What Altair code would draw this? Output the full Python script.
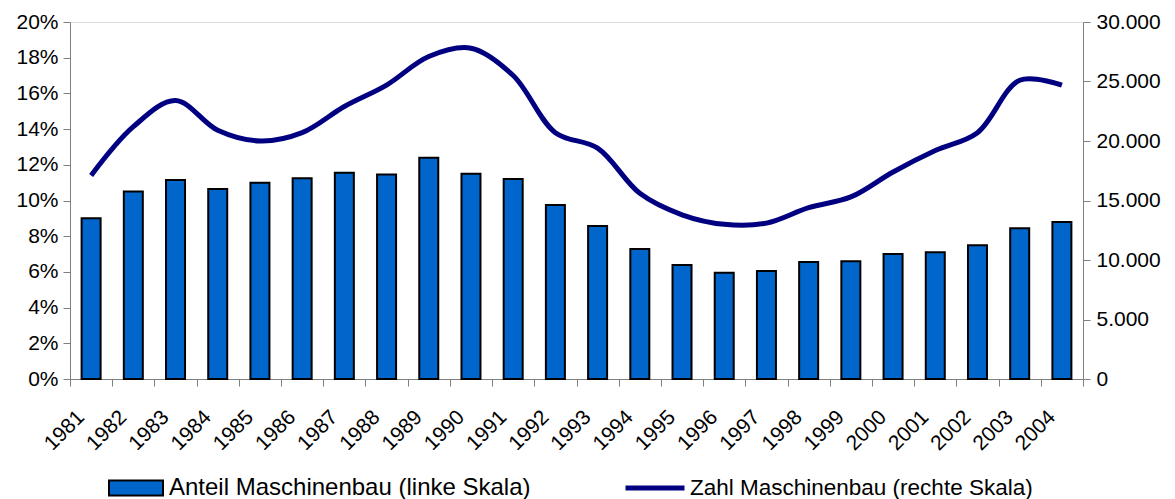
import altair as alt
import pandas as pd

years = [str(y) for y in range(1981, 2005)]
anteil = [9.0, 10.5, 11.15, 10.65, 11.0, 11.25, 11.55, 11.45, 12.4, 11.5, 11.2, 9.75,
          8.57, 7.28, 6.39, 5.95, 6.05, 6.55, 6.6, 7.0, 7.1, 7.5, 8.45, 8.8]
zahl = [17100, 21200, 23400, 20900, 20000, 20700, 22900, 24700, 27100, 27800, 25500, 20700,
        19400, 15600, 13800, 13000, 13100, 14400, 15300, 17400, 19200, 20700, 25100, 24700]

s_bar = "Anteil Maschinenbau (linke Skala)"
s_line = "Zahl Maschinenbau (rechte Skala)"

df = pd.DataFrame({"year": years, "anteil": anteil, "zahl": zahl,
                   "s_bar": s_bar, "s_line": s_line})

FONT = "Liberation Sans"

x = alt.X("year:N", title=None, sort=years,
          scale=alt.Scale(paddingInner=0, paddingOuter=0),
          axis=alt.Axis(labelAngle=-45, tickBand="extent", tickSize=7,
                        domainColor="#808080", tickColor="#808080",
                        labelFont=FONT, labelFontSize=21, labelColor="black",
                        labelPadding=20, labelOffset=-18))

bars = alt.Chart(df).mark_bar(size=19, stroke="black", strokeWidth=2).encode(
    x=x,
    y=alt.Y("anteil:Q", title=None, scale=alt.Scale(domain=[0, 20], nice=False),
            axis=alt.Axis(values=list(range(0, 21, 2)), labelExpr="datum.value + '%'",
                          grid=False, tickSize=7, domainColor="#808080", tickColor="#808080",
                          labelFont=FONT, labelFontSize=21, labelColor="black", labelPadding=5)),
    fill=alt.Fill("s_bar:N", scale=alt.Scale(domain=[s_bar], range=["#0066CC"]),
                  legend=alt.Legend(title=None, orient="none", legendX=38, legendY=438,
                                    symbolType="M-1,-0.28H1V0.28H-1Z", symbolSize=2916,
                                    symbolStrokeColor="black", symbolStrokeWidth=2,
                                    symbolFillColor="#0066CC", labelLimit=0,
                                    labelFont=FONT, labelFontSize=24, labelColor="black",
                                    labelOffset=5)),
)

line = alt.Chart(df).mark_line(strokeWidth=5, interpolate="catmull-rom").encode(
    x=x,
    y=alt.Y("zahl:Q", title=None, scale=alt.Scale(domain=[0, 30000], nice=False),
            axis=alt.Axis(orient="right", values=list(range(0, 30001, 5000)),
                          labelExpr="replace(format(datum.value, ','), ',', '.')",
                          grid=False, tickSize=7, domainColor="#808080", tickColor="#808080",
                          labelFont=FONT, labelFontSize=21, labelColor="black", labelPadding=6)),
    stroke=alt.Stroke("s_line:N", scale=alt.Scale(domain=[s_line], range=["#000080"]),
                      legend=alt.Legend(title=None, orient="none", legendX=553, legendY=434,
                                        symbolType="stroke", symbolSize=3481,
                                        symbolStrokeWidth=5, labelLimit=0,
                                        labelFont=FONT, labelFontSize=22.5, labelColor="black",
                                        labelOffset=3)),
)

chart = alt.layer(bars, line).resolve_scale(y="independent", fill="independent",
                                            stroke="independent").properties(
    width=1013, height=357,
    autosize=alt.AutoSizeParams(type="none"),
    padding={"left": 62, "top": 14, "right": 84, "bottom": 130},
).configure_view(stroke=None).configure(background="white")

chart.save("out.html", embed_options={"renderer": "svg", "actions": False})
